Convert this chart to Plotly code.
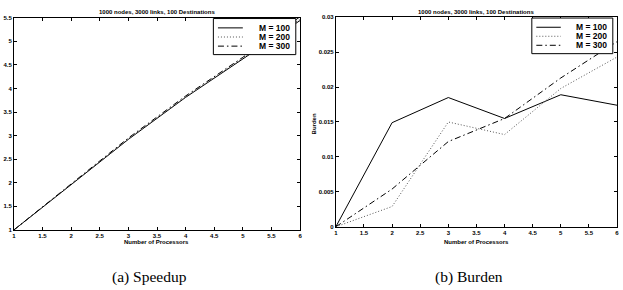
import plotly.graph_objects as go

processors = [1, 2, 3, 4, 5, 6]
series_names = ["M = 100", "M = 200", "M = 300"]
speedup_m100 = [1, 1.97, 2.92, 3.81, 4.62, 5.44]
speedup_m200 = [1, 1.97, 2.93, 3.82, 4.64, 5.47]
speedup_m300 = [1, 1.98, 2.95, 3.84, 4.66, 5.52]
burden_m100 = [0, 0.0149, 0.0185, 0.0155, 0.0189, 0.0174]
burden_m200 = [0, 0.0029, 0.0150, 0.0132, 0.0198, 0.0243]
burden_m300 = [0, 0.0054, 0.0122, 0.0155, 0.0213, 0.0265]
x_ticks = [1, 1.5, 2, 2.5, 3, 3.5, 4, 4.5, 5, 5.5, 6]
speedup_ticks = [1, 1.5, 2, 2.5, 3, 3.5, 4, 4.5, 5, 5.5]
burden_ticks = [0, 0.005, 0.01, 0.015, 0.02, 0.025, 0.03]
burden_tick_text = ["0", "0.005", "0.01", "0.015", "0.02", "0.025", "0.03"]
plot_title = "1000 nodes, 3000 links, 100 Destinations"
x_title = "Number of Processors"
captions = ["(a) Speedup", "(b) Burden"]

dashes = ["solid", "1px,2px", "6px,3px,1.5px,3px"]
colors = ["black", "#555555", "black"]

W, H = 623, 290
fig = go.Figure()

for ys, name, d, c in zip([speedup_m100, speedup_m200, speedup_m300], series_names, dashes, colors):
    fig.add_trace(go.Scatter(x=processors, y=ys, mode="lines", name=name, showlegend=False,
                             line=dict(color=c, width=1, dash=d), xaxis="x", yaxis="y"))
for ys, name, d, c in zip([burden_m100, burden_m200, burden_m300], series_names, dashes, colors):
    fig.add_trace(go.Scatter(x=processors, y=ys, mode="lines", name=name, showlegend=False,
                             line=dict(color=c, width=1, dash=d), xaxis="x2", yaxis="y2"))

tickfont = dict(family="Liberation Sans, Arial", size=6, color="black", weight=700)
axis_common = dict(showline=True, linecolor="black", linewidth=1, mirror="ticks", ticks="inside",
                   ticklen=3, tickcolor="black", tickwidth=1, showgrid=False, zeroline=False,
                   tickfont=tickfont)

fig.update_layout(
    width=W, height=H, margin=dict(l=0, r=0, t=0, b=0),
    paper_bgcolor="white", plot_bgcolor="white", showlegend=False,
    xaxis=dict(domain=[12 / W, 300 / W], range=[1, 6], tickvals=x_ticks,
               ticktext=[f"{v:g}" for v in x_ticks], anchor="y", **axis_common),
    yaxis=dict(domain=[1 - 231.7 / H, 1 - 15 / H], range=[1, 5.5], tickvals=speedup_ticks,
               ticktext=[f"{v:g}" for v in speedup_ticks], anchor="x", **axis_common),
    xaxis2=dict(domain=[336 / W, 619 / W], range=[1, 6], tickvals=x_ticks,
                ticktext=[f"{v:g}" for v in x_ticks], anchor="y2", **axis_common),
    yaxis2=dict(domain=[1 - 228.5 / H, 1 - 14.5 / H], range=[0, 0.03], tickvals=burden_ticks,
                ticktext=burden_tick_text, anchor="x2", **axis_common),
)

small_bold = dict(family="Liberation Sans, Arial", size=6, color="black", weight=700)
annotations = []
shapes = []
for i, (xa, ya) in enumerate([("x", "y"), ("x2", "y2")]):
    annotations.append(dict(text=plot_title, xref=f"{xa} domain", yref="paper", x=0.5, y=1 - 9 / H,
                            xanchor="center", yanchor="middle", showarrow=False, font=small_bold))
    annotations.append(dict(text=x_title, xref=f"{xa} domain", yref="paper", x=0.5, y=1 - 244 / H,
                            xanchor="center", yanchor="middle", showarrow=False, font=small_bold))
    annotations.append(dict(text=captions[i], xref=f"{xa} domain", yref="paper", x=0.5 - 0.025, y=1 - 280 / H,
                            xanchor="center", yanchor="middle", showarrow=False,
                            font=dict(family="Liberation Serif, Times New Roman", size=15.5, color="black")))
    # legend box
    shapes.append(dict(type="rect", xref=f"{xa} domain", yref=f"{ya} domain", x0=0.697, x1=0.985,
                       y0=0.826, y1=0.996, line=dict(color="black", width=1), fillcolor="white", layer="above"))
    for j, (name, d, c) in enumerate(zip(series_names, dashes, colors)):
        yy = 0.952 - j * 0.043
        shapes.append(dict(type="line", xref=f"{xa} domain", yref=f"{ya} domain", x0=0.713, x1=0.800,
                           y0=yy, y1=yy, line=dict(color=c, width=1, dash=d), layer="above"))
        annotations.append(dict(text=name, xref=f"{xa} domain", yref=f"{ya} domain", x=0.972, y=yy,
                                xanchor="right", yanchor="middle", showarrow=False,
                                font=dict(family="Liberation Sans, Arial", size=8.5, color="black", weight=700)))

annotations.append(dict(text="Burden", xref="paper", yref="paper", x=314 / W, y=1 - 123 / H,
                        xanchor="center", yanchor="middle", textangle=-90, showarrow=False, font=small_bold))

fig.update_layout(annotations=annotations, shapes=shapes)
fig.write_html("out.html")
